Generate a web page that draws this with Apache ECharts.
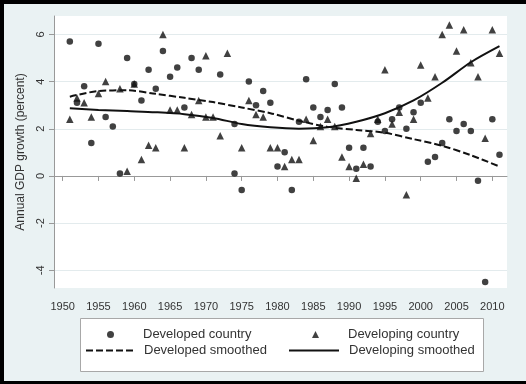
<!DOCTYPE html>
<html><head><meta charset="utf-8">
<script src="https://cdn.jsdelivr.net/npm/echarts@6/dist/echarts.min.js"></script>
<style>
html,body{margin:0;padding:0;background:#eaf2f3}
#c{width:526px;height:384px}
#f{position:absolute;left:0;top:0;width:526px;height:384px;box-sizing:border-box;border-left:4px solid #000;border-top:4px solid #000;border-bottom:3px solid #000;pointer-events:none}
</style>
</head><body><div id="c"></div><div id="f"></div>
<script>
// ---- data ----
const xTicks = [1950,1955,1960,1965,1970,1975,1980,1985,1990,1995,2000,2005,2010];
const yTicks = [-4,-2,0,2,4,6];

const devYears = [1951,1952,1953,1954,1955,1956,1957,1958,1959,1960,1961,1962,1963,1964,1965,1966,1967,1968,1969,1972,
  1974,1974,1975,1976,1977,1978,1979,1980,1981,1982,1983,1984,1985,1986,1987,1988,1989,1990,1991,1992,
  1993,1994,1995,1996,1997,1998,1999,2000,2001,2002,2003,2004,2005,2006,2007,2008,2009,2010,2011];
const devGrowth = [5.7,3.1,3.8,1.4,5.6,2.5,2.1,0.1,5.0,3.9,3.2,4.5,3.7,5.3,4.2,4.6,2.9,5.0,4.5,4.3,
  2.2,0.1,-0.6,4.0,3.0,3.6,3.1,0.4,1.0,-0.6,2.3,4.1,2.9,2.5,2.8,3.9,2.9,1.2,0.3,1.2,
  0.4,2.3,1.9,2.4,2.9,2.0,2.7,3.1,0.6,0.8,1.4,2.4,1.9,2.2,1.9,-0.2,-4.5,2.4,0.9];

const dvgYears = [1951,1952,1953,1954,1955,1956,1958,1959,1960,1961,1962,1963,1964,1965,1966,1967,1968,1969,1970,1970,
  1971,1972,1973,1975,1976,1977,1978,1979,1980,1981,1982,1983,1984,1985,1986,1987,1988,1989,1990,1991,
  1992,1993,1994,1995,1996,1997,1998,1999,2000,2001,2002,2003,2004,2005,2006,2007,2008,2009,2010,2011];
const dvgGrowth = [2.4,3.3,3.1,2.5,3.5,4.0,3.7,0.2,3.9,0.7,1.3,1.2,6.0,2.8,2.8,1.2,2.6,3.2,5.1,2.5,
  2.5,1.7,5.2,1.2,3.2,2.6,2.5,1.2,1.2,0.4,0.7,0.7,2.4,1.5,2.1,2.4,2.1,0.8,0.4,-0.1,
  0.5,1.8,2.4,4.5,2.2,2.7,-0.8,2.4,4.7,3.3,4.2,6.0,6.4,5.3,6.2,4.8,4.2,1.6,6.2,5.2];

const devSmYears = [1951,1955,1959,1963,1967,1971,1975,1979,1983,1987,1991,1995,1999,2003,2007,2011];
const devSmooth  = [3.36,3.6,3.63,3.48,3.31,3.13,2.9,2.66,2.34,2.08,1.95,1.83,1.56,1.28,0.88,0.4];

const dvgSmYears = [1951,1955,1959,1963,1967,1971,1975,1979,1983,1987,1991,1995,1999,2003,2007,2011];
const dvgSmooth  = [2.87,2.8,2.75,2.7,2.62,2.46,2.2,2.06,2.0,2.06,2.3,2.66,3.2,3.95,4.82,5.5];

const zip = (a, b) => a.map((v, i) => [v, b[i]]);
const font = '"Liberation Sans", Arial, sans-serif';
const txt = '#333';

const chart = echarts.init(document.getElementById('c'));
const legendBase = {padding: 0, textStyle: {fontSize: 13, color: txt, fontFamily: font}, selectedMode: false};
chart.setOption({
  animation: false,
  backgroundColor: '#eaf2f3',
  graphic: [{type: 'rect', z: 0, shape: {x: 80.5, y: 318.5, width: 403, height: 53},
    style: {fill: '#fff', stroke: '#a8a8a8', lineWidth: 1}}],
  grid: {left: 54, right: 19, top: 16, bottom: 96, show: true, backgroundColor: '#fff', borderWidth: 0},
  xAxis: {
    type: 'value', min: 1948.79, max: 2012.05,
    axisLine: {show: true, lineStyle: {color: '#999'}},
    axisTick: {show: true, length: 5, customValues: xTicks, lineStyle: {color: '#999'}},
    axisLabel: {customValues: xTicks, margin: 13, fontSize: 11, color: txt, fontFamily: font,
      formatter: v => String(v)},
    splitLine: {show: false}
  },
  yAxis: {
    type: 'value', min: -4.75, max: 6.78,
    name: 'Annual GDP growth (percent)', nameLocation: 'middle', nameGap: 20, nameRotate: 90,
    nameTextStyle: {fontSize: 12, color: txt, fontFamily: font},
    axisLine: {show: true, lineStyle: {color: '#999'}},
    axisTick: {show: true, length: 5, customValues: yTicks, lineStyle: {color: '#999'}},
    axisLabel: {customValues: yTicks, rotate: 90, margin: 8, fontSize: 11, color: txt, fontFamily: font},
    splitLine: {show: true, lineStyle: {color: '#e3ebed', width: 1}}
  },
  legend: [
    Object.assign({}, legendBase, {data: [{name: 'Developed country', icon: 'circle'}], left: 107, top: 328, itemWidth: 7, itemHeight: 7,
      textStyle: Object.assign({}, legendBase.textStyle, {padding: [0, 0, 0, 24]})}),
    Object.assign({}, legendBase, {data: [{name: 'Developing country', icon: 'triangle'}], left: 312, top: 328, itemWidth: 7, itemHeight: 7,
      textStyle: Object.assign({}, legendBase.textStyle, {padding: [0, 0, 0, 24]})}),
    Object.assign({}, legendBase, {data: ['Developed smoothed'], left: 85, top: 344, itemWidth: 50, itemHeight: 14,
      itemStyle: {opacity: 0},
      textStyle: Object.assign({}, legendBase.textStyle, {padding: [0, 0, 0, 3]})}),
    Object.assign({}, legendBase, {data: ['Developing smoothed'], left: 288, top: 344, itemWidth: 50, itemHeight: 14,
      itemStyle: {opacity: 0},
      textStyle: Object.assign({}, legendBase.textStyle, {padding: [0, 0, 0, 5]})})
  ],
  series: [
    {name: 'Developed country', type: 'scatter', symbol: 'circle', symbolSize: 6.5,
      itemStyle: {color: '#111'}, data: zip(devYears, devGrowth), z: 3},
    {name: 'Developing country', type: 'scatter', symbol: 'triangle', symbolSize: 7.5,
      itemStyle: {color: '#111'}, data: zip(dvgYears, dvgGrowth), z: 3},
    {name: 'Developed smoothed', type: 'line', smooth: 0.3, symbol: 'none',
      lineStyle: {color: '#111', width: 2, type: [7, 3]}, itemStyle: {color: '#111'},
      data: zip(devSmYears, devSmooth), z: 4},
    {name: 'Developing smoothed', type: 'line', smooth: 0.3, symbol: 'none',
      lineStyle: {color: '#111', width: 2}, itemStyle: {color: '#111'},
      data: zip(dvgSmYears, dvgSmooth), z: 4}
  ]
});
</script></body></html>
